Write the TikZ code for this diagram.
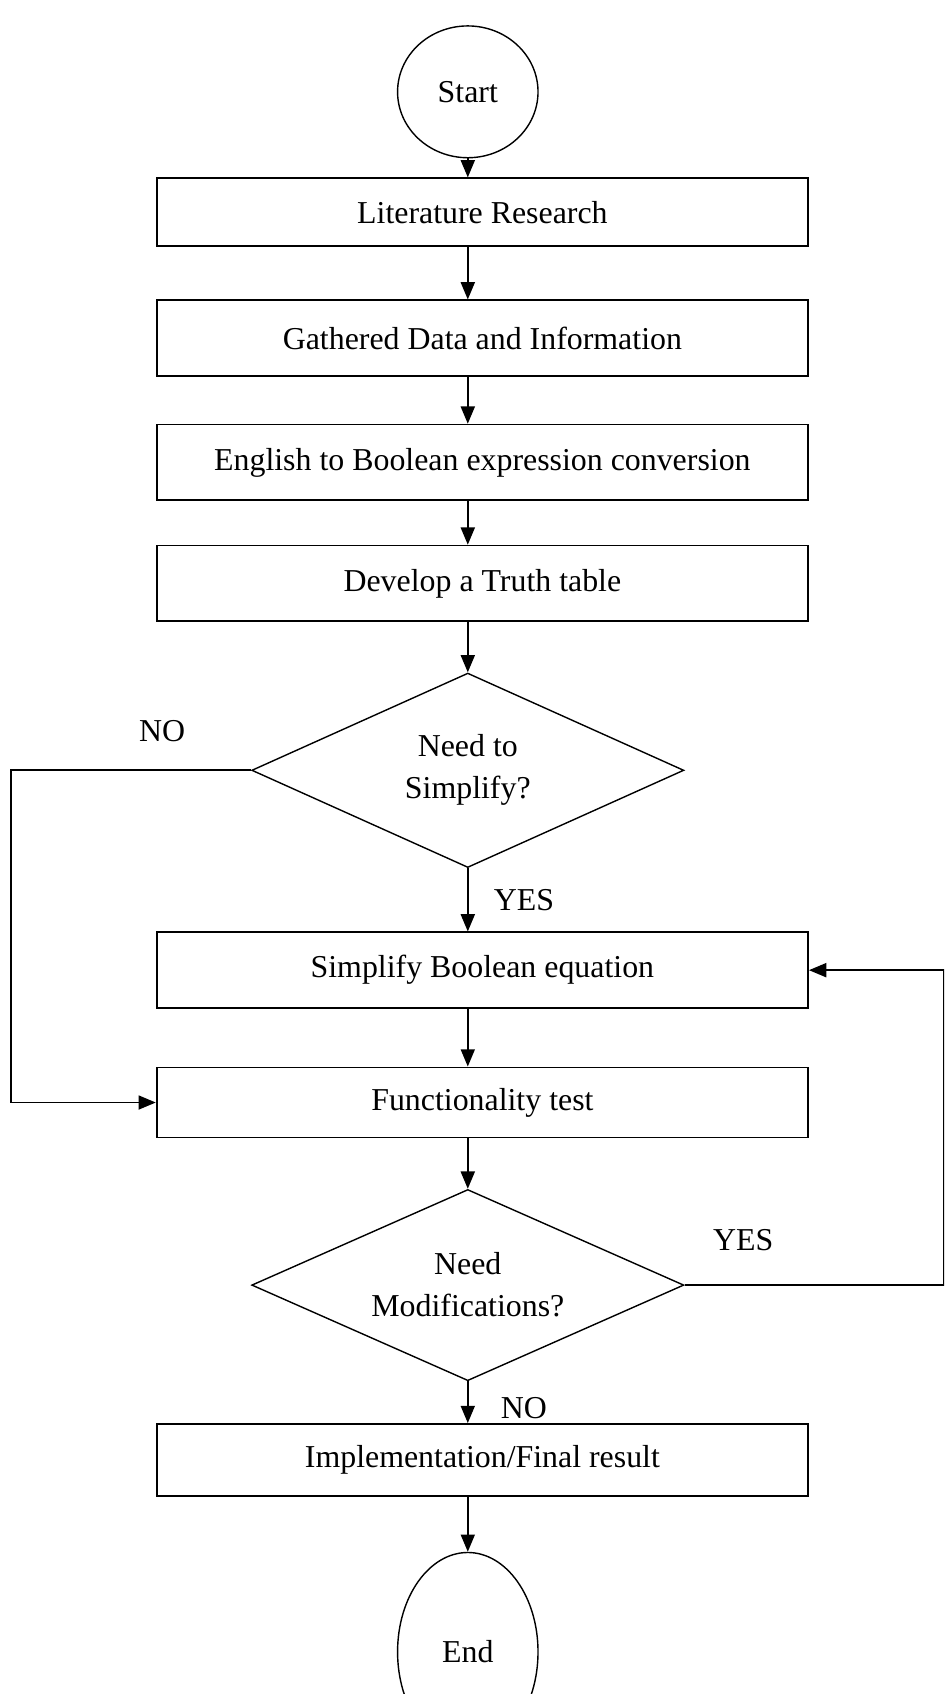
\documentclass[tikz,border=0pt]{standalone}
\usepackage{fontspec}
\setmainfont{Liberation Serif}
\usetikzlibrary{shapes.geometric,arrows.meta}
\tikzset{
  every node/.style={font=\fontsize{29.5}{39}\selectfont},
  procbox/.style={draw, line width=1.6pt, rectangle, minimum width=603pt, inner sep=0pt, align=center},
  term/.style={draw, line width=1.3pt, ellipse, minimum width=130pt, minimum height=122pt, inner sep=0pt},
  decide/.style={draw, line width=1.3pt, diamond, aspect=2.22, minimum width=400pt, minimum height=180pt, inner sep=0pt, align=center},
  flow/.style={line width=1.6pt, -{Triangle[length=16pt,width=13pt]}},
  lbl/.style={inner sep=0pt}
}
\begin{document}
\begin{tikzpicture}[x=1pt,y=-1pt]
\useasboundingbox (0,0) rectangle (874,1568);
\begin{scope}
\clip (0,0) rectangle (874,1568);
\node[term] (start) at (433,85) {Start};
\node[procbox, minimum height=63pt] (lit) at (446.5,196.5) {Literature Research};
\node[procbox, minimum height=70pt] (gath) at (446.5,313) {Gathered Data and Information};
\node[procbox, minimum height=70pt] (eng) at (446.5,428) {English to Boolean expression conversion};
\node[procbox, minimum height=70pt] (dev) at (446.5,540) {Develop a Truth table};
\node[decide] (d1) at (433,713) {Need to\\Simplify?};
\node[procbox, minimum height=70pt] (simp) at (446.5,898) {Simplify Boolean equation};
\node[procbox, minimum height=65pt] (func) at (446.5,1020.5) {Functionality test};
\node[decide, minimum height=177pt] (d2) at (433,1189.5) {Need\\Modifications?};
\node[procbox, minimum height=67pt] (impl) at (446.5,1351.5) {Implementation/Final result};
\node[term, minimum height=184pt] (end) at (433,1529) {End};

\node[lbl] (no1) at (150,677) {NO};
\node[lbl] (yes1) at (485,833) {YES};
\node[lbl] (yes2) at (688,1148) {YES};
\node[lbl] (no2) at (485,1303) {NO};

\coordinate (nol) at (10,713);
\coordinate (yesr) at (874,1189.5);

\draw[flow] (start.south) -- (start.south |- lit.north);
\draw[flow] (start.south |- lit.south) -- (start.south |- gath.north);
\draw[flow] (start.south |- gath.south) -- (start.south |- eng.north);
\draw[flow] (start.south |- eng.south) -- (start.south |- dev.north);
\draw[flow] (start.south |- dev.south) -- (d1.north);
\draw[flow] (d1.south) -- (d1.south |- simp.north);
\draw[flow] (d1.south |- simp.south) -- (d1.south |- func.north);
\draw[flow] (d1.south |- func.south) -- (d2.north);
\draw[flow] (d2.south) -- (d2.south |- impl.north);
\draw[flow] (d2.south |- impl.south) -- (end.north);
\draw[flow] (d1.west) -- (nol) |- (func.west);
\draw[flow] (d2.east) -- (yesr) |- (simp.east);
\end{scope}
\end{tikzpicture}
\end{document}
